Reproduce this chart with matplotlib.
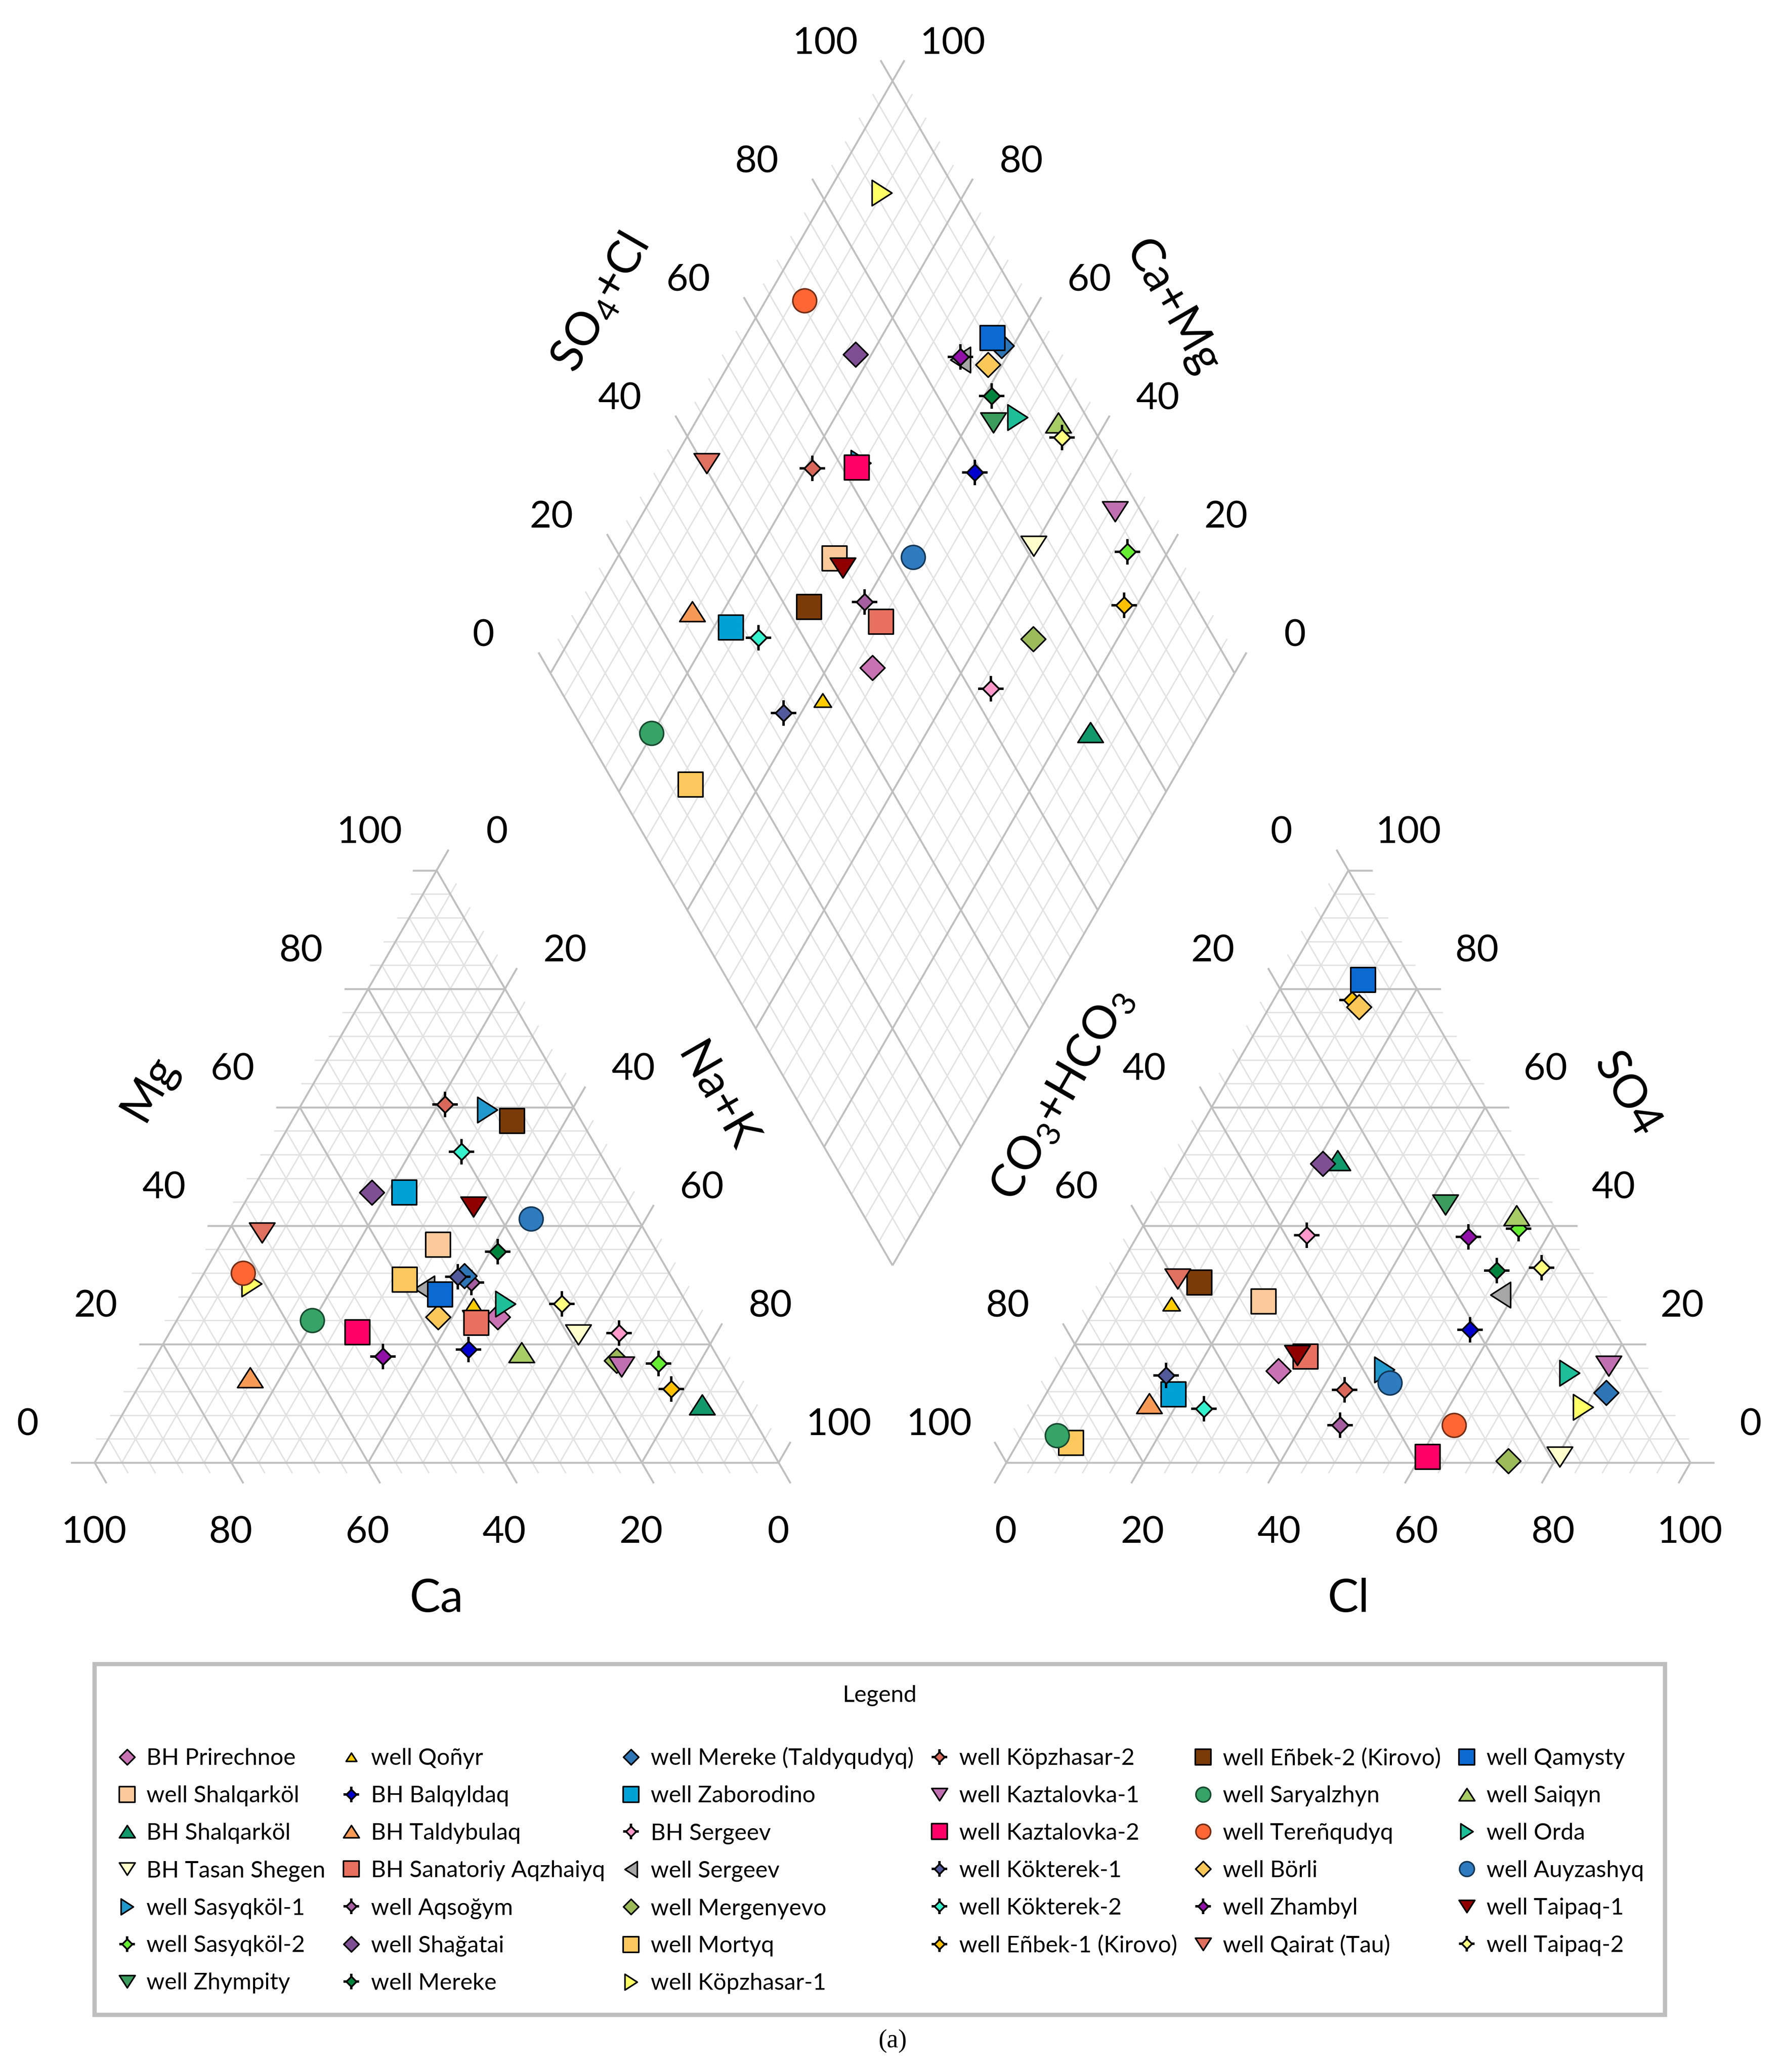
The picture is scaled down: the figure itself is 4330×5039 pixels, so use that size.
import numpy as np
import matplotlib
matplotlib.use("Agg")
import matplotlib.pyplot as plt
from matplotlib.collections import LineCollection
from matplotlib.path import Path
from matplotlib.legend_handler import HandlerTuple

plt.rcParams['font.family'] = ['Lato', 'DejaVu Sans']
plt.rcParams['mathtext.default'] = 'regular'

# samples, in legend order (meq %)
names = ["BH Prirechnoe", "well Shalqarköl", "BH Shalqarköl", "BH Tasan Shegen",
         "well Sasyqköl-1", "well Sasyqköl-2", "well Zhympity",
         "well Qoñyr", "BH Balqyldaq", "BH Taldybulaq", "BH Sanatoriy Aqzhaiyq",
         "well Aqsoğym", "well Shağatai", "well Mereke",
         "well Mereke (Taldyqudyq)", "well Zaborodino", "BH Sergeev", "well Sergeev",
         "well Mergenyevo", "well Mortyq", "well Köpzhasar-1",
         "well Köpzhasar-2", "well Kaztalovka-1", "well Kaztalovka-2", "well Kökterek-1",
         "well Kökterek-2", "well Eñbek-1 (Kirovo)",
         "well Eñbek-2 (Kirovo)", "well Saryalzhyn", "well Tereñqudyq", "well Börli",
         "well Zhambyl", "well Qairat (Tau)",
         "well Qamysty", "well Saiqyn", "well Orda", "well Auyzashyq",
         "well Taipaq-1", "well Taipaq-2"]

# cations
mg  = [24.6, 36.8, 9.8, 21.6, 59.6, 16.7, 24.0,
       26.6, 19.1, 14.4, 23.6, 30.4, 45.6, 35.6,
       31.5, 45.6, 21.9, 29.4, 17.2, 30.9, 30.2,
       60.5, 16.2, 22.0, 31.4, 52.5, 12.4,
       57.7, 24.0, 32.0, 24.6, 17.9, 38.8,
       28.4, 18.6, 26.8, 41.2, 43.2, 26.8]
nak = [46.6, 31.8, 83.9, 59.9, 27.6, 74.1, 43.6,
       42.1, 45.1, 15.5, 44.0, 39.9, 17.7, 41.1,
       38.3, 22.5, 65.7, 33.5, 67.7, 29.9, 7.9,
       21.0, 68.9, 27.4, 37.4, 27.4, 78.1,
       32.2, 19.8, 5.7, 37.9, 33.2, 5.1,
       36.3, 53.1, 46.7, 43.2, 33.8, 54.9]
# anions
so4 = [15.5, 27.2, 51.0, 1.0, 15.7, 39.5, 43.5,
       26.8, 22.4, 10.0, 17.9, 6.3, 50.5, 32.4,
       11.8, 11.5, 38.4, 28.3, 0.3, 3.3, 9.4,
       12.3, 16.3, 1.0, 14.7, 9.1, 78.1,
       30.4, 4.6, 6.3, 76.9, 38.1, 31.0,
       81.5, 41.7, 15.1, 13.5, 18.1, 32.9]
cl  = [32.0, 24.0, 22.9, 80.4, 47.4, 55.1, 42.4,
       10.7, 56.6, 15.9, 34.8, 45.6, 21.0, 55.5,
       81.8, 18.7, 24.7, 58.1, 73.2, 7.8, 79.6,
       43.3, 79.9, 61.1, 16.0, 24.3, 11.5,
       13.0, 5.1, 62.3, 13.1, 48.5, 9.5,
       11.4, 53.7, 74.8, 49.3, 33.5, 61.8]

# marker styles
mk = ['D', 's', '^', 'v', '>', '*4', 'v',
      '^', '*4', '^', 's', '*4', 'D', '*4',
      'D', 's', '*4', '<', 'D', 's', '>',
      '*4', 'v', 's', '*4', '*4', '*4',
      's', 'o', 'o', 'D', '*4', 'v',
      's', '^', '>', 'o', 'v', '*4']
colors = ['#C872B4', '#FCCA9A', '#12996B', '#FFFFCC', '#2198CB', '#66EE33', '#3A9D5D',
          '#FFCC00', '#0000CC', '#F79A55', '#E8705F', '#A55FA0', '#7F4F94', '#00843D',
          '#2E75B6', '#00A2D6', '#FF99CC', '#A6A6A6', '#9BBB59', '#FCC85E', '#FFFF66',
          '#D9685A', '#C070B0', '#FF0066', '#525A9C', '#33F2CC', '#FFC000',
          '#7B3B08', '#36A367', '#FF6633', '#FAC858', '#9010A8', '#E07060',
          '#0A6AD2', '#A8CC66', '#1DBE98', '#2E7BC0', '#900000', '#FFFF80']
small = ["well Qoñyr"]

n = len(names)
mg, nak, so4, cl = map(np.array, (mg, nak, so4, cl))
camg = 100 - nak
so4cl = so4 + cl

# geometry: triangle side = 100 units
h1 = np.sqrt(3) / 2
GAP = 33.3
RX = 100 + GAP
DX, DY = 100 + GAP / 2, GAP * h1


def cat(m, k):
    return (k + m / 2, m * h1)


def an(s, c):
    return (RX + c + s / 2, s * h1)


def dm(a, b):
    return (DX + 0.5 * (b - a), DY + h1 * (a + b))


fig = plt.figure(figsize=(4330 / 300, 5039 / 300), dpi=300)
ax = fig.add_axes([0, 0, 1, 1])
ax.set_xlim(-13.83, 246.54)
ax.set_ylim(-89.12, 213.89)
ax.axis('off')

# grid
L, R, UL, UR, DL, DR = (-1, 0), (1, 0), (-0.5, h1), (0.5, h1), (-0.5, -h1), (0.5, -h1)
minor, major = [], []


def add(a, b, e, d, p):
    big = p % 20 == 0
    lst = major if big else minor
    ext = 3.5 if big else 1.8
    lst.append([a, b])
    lst.append([e, (e[0] + ext * d[0], e[1] + ext * d[1])])


for p in range(0, 101, 4):
    q = 100 - p
    add(cat(p, 0), cat(p, q), cat(p, 0), L, p)
    add(cat(0, p), cat(q, p), cat(q, p), UR, p)
    add(cat(0, q), cat(q, 0), cat(0, q), DR, p)
    add(an(p, 0), an(p, q), an(p, q), R, p)
    add(an(0, p), an(q, p), an(0, p), DL, p)
    add(an(0, q), an(q, 0), an(q, 0), UL, p)
    add(dm(0, p), dm(100, p), dm(100, p), UL, p)
    add(dm(p, 0), dm(p, 100), dm(p, 100), UR, p)

ax.add_collection(LineCollection(minor, colors='#E2E2E2', linewidths=0.8, zorder=1))
ax.add_collection(LineCollection(major, colors='#BFBFBF', linewidths=1.1, zorder=2))

# tick labels
tk = dict(fontsize=22, ha='center', va='center', color='black')
offL, offR, offB = (-9.84, 5.5), (8.78, 5.5), (-0.1, -10.22)
for p in range(0, 101, 20):
    q = 100 - p
    for (x, y), o in [(cat(p, 0), offL), (cat(q, p), offR), (cat(0, q), offB),
                      (an(p, q), offR), (an(0, p), offB), (an(q, 0), offL),
                      (dm(100, p), offL), (dm(p, 100), offR)]:
        ax.text(x + o[0], y + o[1], str(p), **tk)

# axis titles
tt = dict(fontsize=27, ha='center', va='center', rotation_mode='anchor', color='black')
ax.text(50, -19.9, 'Ca', **tt)
ax.text(RX + 50, -19.9, 'Cl', **tt)
ax.text(8.0, 54.8, 'Mg', rotation=60, **tt)
ax.text(90.9, 53.4, 'Na+K', rotation=-60, **tt)
ax.text(RX + 8.1, 53.8, 'CO$_3$+HCO$_3$', rotation=60, **tt)
ax.text(RX + 90.7, 53.8, 'SO4', rotation=-60, **tt)
ax.text(DX - 42.7, 169.5, 'SO$_4$+Cl', rotation=60, **tt)
ax.text(DX + 40.8, 168.9, 'Ca+Mg', rotation=-60, **tt)
ax.text(DX, -84.6, '(a)', fontsize=15, ha='center', va='center',
        family='Liberation Serif')


def poly(pts):
    pts = np.asarray(pts, float)
    return Path(np.vstack([pts, pts[:1]]), closed=True)


MK = {'s': poly([(-1, -1), (1, -1), (1, 1), (-1, 1)]),
      'D': poly([(0, 1), (1, 0), (0, -1), (-1, 0)]),
      '^': poly([(-1, -0.78), (1, -0.78), (0, 0.78)]),
      'v': poly([(-1, 0.78), (1, 0.78), (0, -0.78)]),
      '>': poly([(-0.78, 1), (-0.78, -1), (0.78, 0)]),
      '<': poly([(0.78, 1), (0.78, -1), (-0.78, 0)]),
      'o': 'o'}
PX = 72 / 300
SIZE = {'s': 60, 'D': 60, '^': 62, 'v': 62, '>': 62, '<': 62, 'o': 58}

handles = []
for i in range(n):
    pts = [cat(mg[i], nak[i]), an(so4[i], cl[i]), dm(camg[i], so4cl[i])]
    xs, ys = zip(*pts)
    z = 3 + i * 0.01
    if mk[i] == '*4':
        # four black spikes behind a small diamond
        spikes, = ax.plot(xs, ys, ls='none', marker='+', ms=62 * PX, mec='black',
                          mew=1.4, zorder=z)
        body, = ax.plot(xs, ys, ls='none', marker=MK['D'], ms=40 * PX, mfc=colors[i],
                        mec='black', mew=1.0, zorder=z + 0.001)
        handles.append((spikes, body))
        continue
    size = (42 if names[i] in small else SIZE[mk[i]]) * PX
    edge = 'black'
    if mk[i] == 'o':
        edge = tuple(0.45 * np.array(matplotlib.colors.to_rgb(colors[i])))
    line, = ax.plot(xs, ys, ls='none', marker=MK[mk[i]], ms=size, mfc=colors[i],
                    mec=edge, mew=0.9, zorder=z)
    handles.append(line)

leg = ax.legend(handles, names, ncol=6, loc='upper left',
                bbox_to_anchor=(0.0531, 0.0312, 0.8817, 0.1656),
                handler_map={tuple: HandlerTuple(ndivide=1, pad=0)},
                mode='expand', borderaxespad=0, fontsize=13.5, title='Legend\n',
                title_fontsize=13.5, markerscale=0.62, handlelength=1.0,
                handletextpad=0.35, labelspacing=0.71, columnspacing=0.8,
                borderpad=0.9, fancybox=False, framealpha=1, edgecolor='#BEBEBE')
leg.get_frame().set_linewidth(2.5)

fig.savefig('out.png', dpi=300, facecolor='white')
